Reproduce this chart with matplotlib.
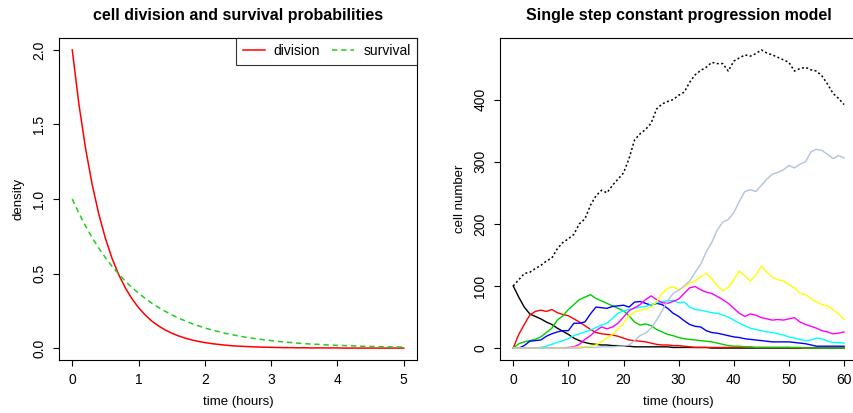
import numpy as np
import matplotlib
matplotlib.use("Agg")
from matplotlib import pyplot as plt

plt.rcParams['font.family'] = ['Liberation Sans', 'DejaVu Sans']

# left panel: densities, every 0.1 h
t_dens = np.linspace(0, 5, 51)
division = [2.000, 1.637, 1.341, 1.098, 0.899, 0.736, 0.602, 0.493, 0.404, 0.331,
            0.271, 0.222, 0.181, 0.149, 0.122, 0.100, 0.082, 0.067, 0.055, 0.045,
            0.037, 0.030, 0.025, 0.020, 0.016, 0.013, 0.011, 0.009, 0.007, 0.006,
            0.005, 0.004, 0.003, 0.003, 0.002, 0.002, 0.001, 0.001, 0.001, 0.001,
            0.001, 0.000, 0.000, 0.000, 0.000, 0.000, 0.000, 0.000, 0.000, 0.000, 0.000]
survival = [1.000, 0.905, 0.819, 0.741, 0.670, 0.607, 0.549, 0.497, 0.449, 0.407,
            0.368, 0.333, 0.301, 0.273, 0.247, 0.223, 0.202, 0.183, 0.165, 0.150,
            0.135, 0.122, 0.111, 0.100, 0.091, 0.082, 0.074, 0.067, 0.061, 0.055,
            0.050, 0.045, 0.041, 0.037, 0.033, 0.030, 0.027, 0.025, 0.022, 0.020,
            0.018, 0.017, 0.015, 0.014, 0.012, 0.011, 0.010, 0.009, 0.008, 0.007, 0.007]

# right panel: cell numbers per generation, read every hour
hours = np.arange(61)
gen0 = [100, 82, 66, 55, 51, 47, 42, 38, 32, 27, 22, 16, 12, 9, 7, 6, 5, 5, 4, 4,
        3, 3, 2, 2, 2, 2, 2, 2, 2, 1, 1, 1, 1, 1, 1, 1] + [0] * 25
gen1 = [0, 22, 38, 53, 59, 61, 59, 62, 57, 54, 52, 47, 42, 36, 30, 25, 23, 22, 21, 19,
        16, 13, 12, 11, 10, 8, 6, 5, 5, 4, 4, 3, 2, 1, 1] + [1] * 16 + [0] * 10
gen2 = [0, 7, 10, 12, 14, 18, 25, 32, 45, 52, 62, 70, 78, 82, 86, 80, 76, 72, 68, 64,
        60, 52, 42, 37, 39, 36, 30, 26, 22, 20, 17, 15, 14, 13, 12, 11, 10, 8, 6, 4,
        3, 3, 2, 2, 1, 1, 1, 1, 1, 1, 1, 1, 1] + [0] * 8
gen3 = [0, 0, 4, 11, 12, 13, 19, 23, 26, 28, 28, 40, 40, 42, 55, 66, 65, 64, 67, 68,
        69, 66, 74, 75, 72, 69, 72, 70, 64, 56, 51, 44, 38, 35, 34, 28, 25, 24, 22, 20,
        18, 17, 15, 14, 13, 12, 11, 10, 10, 10, 10, 9, 8, 7, 5, 3, 3, 3, 3, 3, 3]
gen4 = [0, 0, 0, 0, 0, 1, 3, 6, 9, 12, 15, 20, 23, 26, 29, 33, 37, 40, 48, 56,
        60, 62, 64, 66, 67, 70, 73, 75, 76, 77, 73, 74, 66, 62, 61, 59, 57, 56, 53, 50,
        45, 40, 36, 32, 30, 28, 26, 25, 23, 21, 18, 16, 14, 12, 13, 16, 15, 11, 9, 9, 8]
gen5 = [0, 0, 0, 0, 0, 0, 0, 0, 0, 0, 1, 2, 6, 14, 20, 28, 34, 31, 34, 40,
        50, 60, 65, 70, 78, 84, 78, 73, 72, 75, 79, 88, 97, 99, 94, 90, 88, 83, 78, 72,
        64, 56, 51, 55, 53, 49, 47, 45, 46, 45, 47, 49, 42, 38, 35, 32, 28, 26, 23, 24, 26]
gen6 = [0, 0, 0, 0, 0, 0, 0, 0, 0, 0, 0, 1, 2, 2, 3, 5, 10, 16, 22, 31,
        40, 52, 58, 61, 63, 66, 75, 88, 96, 99, 94, 98, 104, 108, 115, 120, 112, 100, 92, 98,
        110, 124, 116, 108, 118, 132, 122, 114, 110, 108, 102, 97, 88, 86, 80, 74, 70, 68, 62, 55, 46]
gen7 = [0, 0, 0, 0, 0, 0, 0, 0, 0, 0, 0, 0, 0, 1, 1, 1, 2, 2, 2, 3,
        3, 5, 12, 20, 24, 32, 45, 60, 76, 88, 93, 100, 108, 122, 135, 155, 170, 190, 203, 207,
        218, 236, 252, 255, 252, 262, 272, 280, 283, 287, 294, 290, 296, 300, 316, 320, 318, 312, 305, 310, 306]
total = [100, 110, 120, 122, 128, 133, 140, 145, 160, 170, 176, 183, 200, 208, 230, 245, 254, 250, 262, 272,
         282, 305, 335, 345, 352, 362, 385, 393, 397, 400, 407, 412, 428, 440, 447, 452, 460, 458, 458, 446,
         462, 467, 472, 470, 474, 480, 475, 472, 468, 464, 460, 446, 450, 452, 448, 446, 438, 425, 410, 402, 392]

gens = [gen0, gen1, gen2, gen3, gen4, gen5, gen6, gen7]
gen_colors = ['black', '#FF0000', '#00CD00', '#0000FF', '#00FFFF', '#FF00FF', '#FFFF00', '#B0C4DE']

fig = plt.figure(figsize=(8.54, 4.13), dpi=100)
ax1 = fig.add_axes([59 / 854, 53 / 413, 358 / 854, 322 / 413])
ax2 = fig.add_axes([500 / 854, 53 / 413, 357.3 / 854, 322 / 413])


def r_style(ax):
    for sp in ax.spines.values():
        sp.set_linewidth(0.8)
        sp.set_color('black')
    ax.tick_params(length=4.5, width=0.8, pad=4.5, labelsize=10, color='black')
    ax.tick_params(axis='y', labelrotation=90)
    plt.setp(ax.get_yticklabels(), va='center')


# left
ax1.plot(t_dens, division, color='#FF0000', lw=1.1, label='division')
ax1.plot(t_dens, survival, color='#22CC22', lw=1.1, dashes=(3.5, 2.5), label='survival')
ax1.set_xlim(-0.2, 5.2)
ax1.set_ylim(-0.08, 2.08)
ax1.set_xticks([0, 1, 2, 3, 4, 5])
ax1.set_yticks([0.0, 0.5, 1.0, 1.5, 2.0])
ax1.set_yticklabels(['0.0', '0.5', '1.0', '1.5', '2.0'])
r_style(ax1)
ax1.set_title('cell division and survival probabilities', fontsize=11.5, fontweight='bold', pad=13)
ax1.set_xlabel('time (hours)', fontsize=9.5, labelpad=7)
ax1.set_ylabel('density', fontsize=9.5, labelpad=5.5)
leg = ax1.legend(loc='upper right', ncol=2, fontsize=10, borderaxespad=0, fancybox=False,
                 frameon=True, handlelength=1.6, handletextpad=0.65, columnspacing=0.85,
                 borderpad=0.45)
leg.get_frame().set_edgecolor('black')
leg.get_frame().set_linewidth(0.8)

# right
for vals, c in zip(gens, gen_colors):
    ax2.plot(hours, vals, color=c, lw=1.0)
ax2.plot(hours, total, color='black', lw=1.1, dashes=(1.3, 1.6))
top = max(total)
ax2.set_xlim(-0.04 * 60, 60 * 1.04)
ax2.set_ylim(-0.04 * top, 1.04 * top)
ax2.set_xticks([0, 10, 20, 30, 40, 50, 60])
ax2.set_yticks([0, 100, 200, 300, 400])
r_style(ax2)
ax2.set_title('Single step constant progression model', fontsize=11.5, fontweight='bold', pad=13)
ax2.set_xlabel('time (hours)', fontsize=9.5, labelpad=7)
ax2.set_ylabel('cell number', fontsize=9.5, labelpad=5.5)

fig.savefig('out.png', dpi=100)
